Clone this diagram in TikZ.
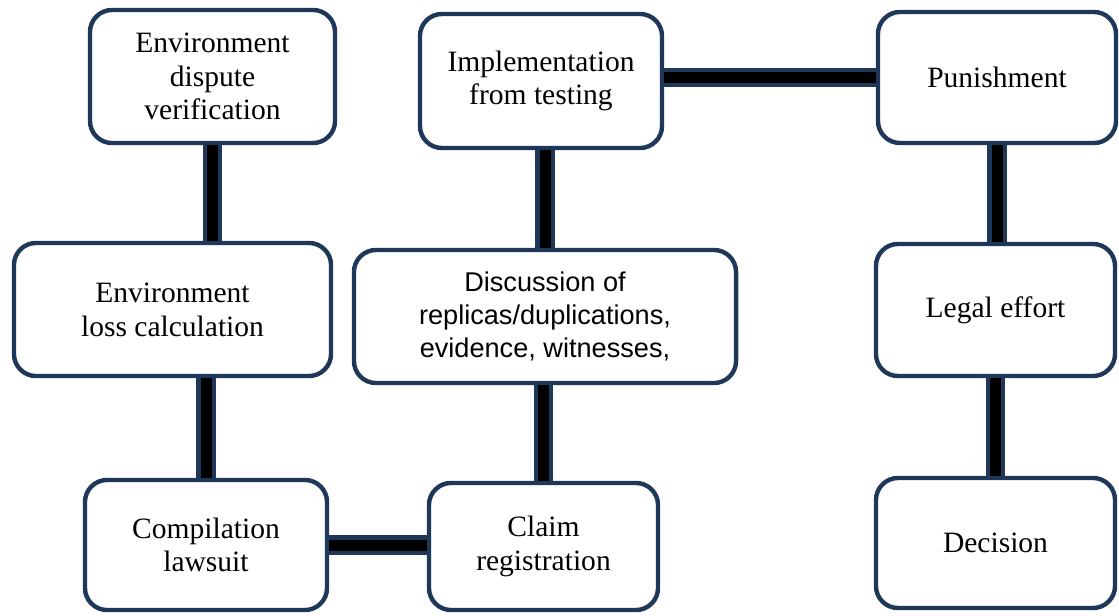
\documentclass[tikz,border=0pt]{standalone}
\usepackage{fontspec}
\setmainfont{Liberation Serif}
\newfontfamily\arialfont{Liberation Sans}
\usepackage{tikz}
\usetikzlibrary{positioning}
\definecolor{navy}{RGB}{31,56,90}
\tikzset{
stage/.style={rectangle, rounded corners=0.55cm, line width=0.11cm, draw=navy, fill=white, align=center, inner sep=0pt, font=\fontsize{21}{24}\selectfont},
stagesans/.style={stage, font=\arialfont\fontsize{19.3}{23.4}\selectfont},
connect/.style={line width=0.11cm, draw=navy, double=black, double distance=0.275cm}
}

\begin{document}
\begin{tikzpicture}[x=0.025cm, y=-0.025cm]
        \useasboundingbox (0,0) rectangle (1119,616);
        % left column
        \node[stage, minimum width=6.125cm, minimum height=3.325cm] (verify) at (212.5,76.5) {Environment\\dispute\\verification};
        \node[stage, minimum width=7.925cm, minimum height=3.325cm] (loss) at (172.5,309.5) {Environment\\loss calculation};
        \node[stage, minimum width=6.05cm, minimum height=3.25cm] (lawsuit) at (206,545) {Compilation\\lawsuit};
        % middle column
        \node[stage, minimum width=6.05cm, minimum height=3.35cm] (testing) at (541,81) {Implementation\\from testing};
        \node[stagesans, minimum width=9.55cm, minimum height=3.325cm] (discuss) at (545,316.5) {Discussion of\\replicas/duplications,\\evidence, witnesses,};
        \node[stage, minimum width=5.725cm, minimum height=3.175cm] (claim) at (543.5,546.5) {Claim\\registration};
        % right column
        \node[stage, minimum width=5.95cm, minimum height=3.275cm] (punish) at (997,77.5) {Punishment};
        \node[stage, minimum width=5.975cm, minimum height=3.3cm] (legal) at (995.5,310) {Legal effort};
        \node[stage, minimum width=5.975cm, minimum height=3.25cm] (decision) at (995.5,543) {Decision};

        \draw[connect] (verify.south) -- (verify.south |- loss.north);
        \draw[connect] (lawsuit.north) -- (lawsuit.north |- loss.south);
        \draw[connect] (lawsuit.east) -- (lawsuit.east -| claim.west);
        \draw[connect] (claim.north) -- (claim.north |- discuss.south);
        \draw[connect] (discuss.north) -- (discuss.north |- testing.south);
        \draw[connect] (punish.west) -- (punish.west -| testing.east);
        \draw[connect] (punish.south) -- (punish.south |- legal.north);
        \draw[connect] (legal.south) -- (legal.south |- decision.north);
    \end{tikzpicture}
\end{document}
